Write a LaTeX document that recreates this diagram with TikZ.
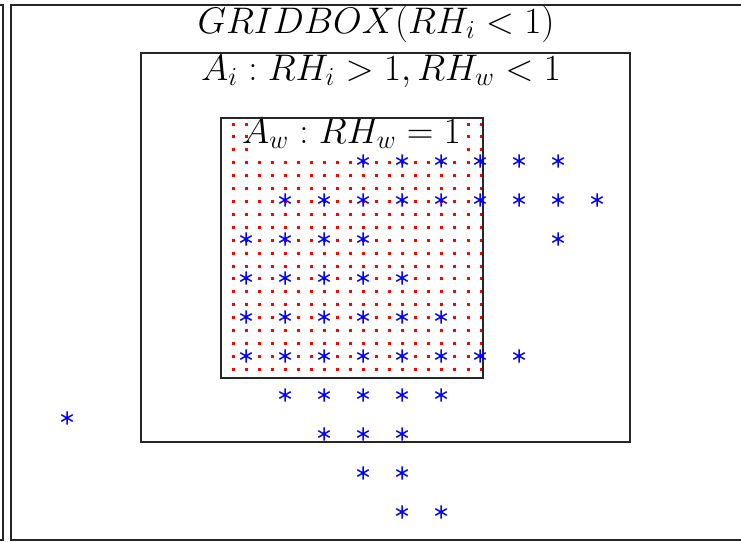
\RequirePackage{fix-cm}
\documentclass[tikz,border=0pt]{standalone}
\usetikzlibrary{plotmarks}
\begin{document}
\begin{tikzpicture}[
  x=0.5pt, y=-0.5pt,
  frame/.style={draw=black!85, line width=0.9pt},
  lbl/.style={font=\fontsize{18.5}{22}\selectfont, anchor=base, inner sep=0pt},
  wdot/.style={fill=red},
  icestar/.style={blue, line width=0.75pt, mark=asterisk, mark size=3.3pt}
  ]
  \useasboundingbox (0,0) rectangle (741,542);
  \clip (0,0) rectangle (741,542);
  % neighbouring panel and the grid box
  \draw[frame] (-60,5) rectangle (3,540);
  \draw[frame] (11,5) rectangle (760,540);
  \node[lbl] (gridbox) at (376,33) {$GRIDBOX(RH_i<1)$};
  % ice supersaturated area
  \draw[frame] (141,53) rectangle (630,442);
  \node[lbl] (icelbl) at (381,80) {$A_i : RH_i>1, RH_w<1$};
  % water saturated area, dotted
  \foreach \i in {0,...,19}
    \foreach \j in {0,...,19}
      \fill[wdot] ({233.3+13.04*\i},{124+12.91*\j}) +(-1.5,-1.5) rectangle +(1.5,1.5);
  \fill[white] (254,119) rectangle (463,156);
  \node[lbl] (waterlbl) at (351.5,143) {$A_w : RH_w=1$};
  \draw[frame] (221,118) rectangle (483,378);
  % ice particles
  \foreach \r/\cols in {0/{3,...,8}, 1/{1,...,9}, 2/{0,1,2,3,8}, 3/{0,...,4},
                        4/{0,...,5}, 5/{0,...,7}, 6/{1,...,5}, 7/{2,3,4},
                        8/{3,4}, 9/{4,5}}
    \foreach \c in \cols
      \draw[icestar] plot[only marks] coordinates {({246+39*\c},{161+39*\r})};
  \draw[icestar] plot[only marks] coordinates {(67,418)};
\end{tikzpicture}
\end{document}
